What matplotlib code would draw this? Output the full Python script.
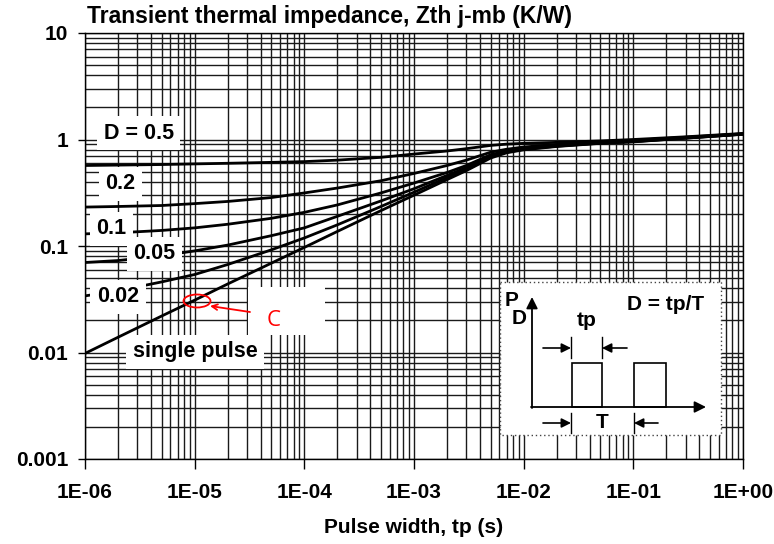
import matplotlib
matplotlib.use("Agg")
import matplotlib.pyplot as plt
from matplotlib.patches import Rectangle, Ellipse

plt.rcParams['font.family'] = ['Liberation Sans', 'DejaVu Sans']

# pulse width (s)
tp = [1e-6, 2e-6, 5e-6, 1e-5, 2e-5, 5e-5, 1e-4, 2e-4, 5e-4, 1e-3, 2e-3, 3e-3, 5e-3, 7e-3,
      1e-2, 2e-2, 5e-2, 1e-1, 3e-1, 1.0]

# Zth j-mb (K/W) per duty cycle
zth_05 = [0.57, 0.575, 0.582, 0.59, 0.598, 0.61, 0.62, 0.64, 0.68, 0.73, 0.78, 0.82, 0.88, 0.905,
          0.92, 0.94, 0.97, 1.00, 1.06, 1.14]
zth_02 = [0.232, 0.235, 0.24, 0.25, 0.262, 0.285, 0.315, 0.35, 0.41, 0.48, 0.57, 0.64, 0.76, 0.81,
          0.85, 0.90, 0.945, 0.98, 1.05, 1.13]
zth_01 = [0.13, 0.133, 0.14, 0.148, 0.16, 0.182, 0.207, 0.243, 0.315, 0.39, 0.49, 0.57, 0.72, 0.78,
          0.83, 0.88, 0.935, 0.97, 1.04, 1.13]
zth_005 = [0.07, 0.073, 0.081, 0.09, 0.102, 0.125, 0.148, 0.19, 0.265, 0.345, 0.46, 0.545, 0.70, 0.77,
           0.82, 0.87, 0.93, 0.96, 1.035, 1.125]
zth_002 = [0.034, 0.038, 0.046, 0.054, 0.067, 0.092, 0.119, 0.158, 0.235, 0.32, 0.44, 0.53, 0.69, 0.76,
           0.81, 0.865, 0.925, 0.955, 1.03, 1.12]
zth_single = [0.0098, 0.0139, 0.022, 0.031, 0.044, 0.069, 0.097, 0.137, 0.215, 0.30, 0.42, 0.51, 0.67, 0.75,
              0.80, 0.86, 0.92, 0.95, 1.03, 1.12]

series = [zth_05, zth_02, zth_01, zth_005, zth_002, zth_single]
labels = ['D = 0.5', '0.2', '0.1', '0.05', '0.02', 'single pulse']
label_x = [3.1e-6, 2.1e-6, 1.73e-6, 4.3e-6, 2.0e-6, 1.01e-5]
label_y = [1.15, 0.383, 0.145, 0.0845, 0.0334, 0.0102]

xticks = [1e-6, 1e-5, 1e-4, 1e-3, 1e-2, 1e-1, 1]
xticklabels = ['1E-06', '1E-05', '1E-04', '1E-03', '1E-02', '1E-01', '1E+00']
yticks = [0.001, 0.01, 0.1, 1, 10]
yticklabels = ['0.001', '0.01', '0.1', '1', '10']

fig = plt.figure(figsize=(7.74, 5.44), dpi=100)
ax = fig.add_axes([85 / 774, 1 - 459 / 544, 658 / 774, 426 / 544])
ax.set_xscale('log')
ax.set_yscale('log')
ax.set_xlim(1e-6, 1)
ax.set_ylim(0.001, 10)

ax.grid(True, which='both', color='#1a1a1a', lw=1.0)
ax.set_axisbelow(True)

for z in series:
    ax.plot(tp, z, color='black', lw=2.0, zorder=3, solid_capstyle='butt')

for lab, lx, ly in zip(labels, label_x, label_y):
    ax.text(lx, ly, lab, fontsize=15.5, fontweight='bold', ha='center', va='center', zorder=5,
            bbox=dict(boxstyle='square,pad=0.3', fc='white', ec='none'))

ax.set_xticks(xticks, labels=xticklabels)
ax.set_yticks(yticks, labels=yticklabels)
ax.minorticks_on()
ax.tick_params(which='minor', length=0)
ax.tick_params(axis='x', which='major', length=7, width=1, pad=10, labelsize=15)
ax.tick_params(axis='y', which='major', length=5, width=1, pad=7, labelsize=15)
for lab in ax.get_xticklabels() + ax.get_yticklabels():
    lab.set_fontweight('bold')
for s in ax.spines.values():
    s.set_color('black')
    s.set_linewidth(1.0)

ax.set_xlabel('Pulse width, tp (s)', fontsize=15, fontweight='bold', labelpad=12)
fig.text(87 / 774, 1 - 16 / 544, 'Transient thermal impedance, Zth j-mb (K/W)',
         fontsize=16.5, fontweight='bold', ha='left', va='center')

# overlay in image pixel coordinates for inset sketch and the red marking
ov = fig.add_axes([0, 0, 1, 1], zorder=10)
ov.set_xlim(0, 774)
ov.set_ylim(544, 0)
ov.axis('off')
ov.patch.set_alpha(0)

# inset with the pulse train
ov.add_patch(Rectangle((500, 282), 221, 153, fc='white', ec='#444444', lw=1.0, ls=(0, (1, 2))))
arr = dict(arrowstyle='-|>', color='black', lw=1.3, mutation_scale=17, shrinkA=0, shrinkB=0)
ov.annotate('', xy=(532, 297), xytext=(532, 408), arrowprops=arr)
ov.annotate('', xy=(706, 407), xytext=(531, 407), arrowprops=arr)
for x0, x1 in [(572, 602), (634, 666)]:
    ov.add_patch(Rectangle((x0, 363), x1 - x0, 44, fc='none', ec='black', lw=1.2))
arr2 = dict(arrowstyle='-|>', color='black', lw=1.2, mutation_scale=14, shrinkA=0, shrinkB=0)
ov.annotate('', xy=(571, 348), xytext=(543, 348), arrowprops=arr2)
ov.annotate('', xy=(602, 348), xytext=(627, 348), arrowprops=arr2)
ov.annotate('', xy=(571, 423), xytext=(543, 423), arrowprops=arr2)
ov.annotate('', xy=(634, 423), xytext=(658, 423), arrowprops=arr2)
ov.plot([571, 571], [337, 358], color='black', lw=1)
ov.plot([602, 602], [337, 358], color='black', lw=1)
ov.plot([571, 571], [413, 433], color='black', lw=1)
ov.plot([634, 634], [413, 433], color='black', lw=1)
ov.text(512, 300, 'P', fontsize=15, fontweight='bold', ha='center', va='center')
ov.text(519, 318, 'D', fontsize=15, fontweight='bold', ha='center', va='center')
ov.text(587, 320, 'tp', fontsize=15, fontweight='bold', ha='center', va='center')
ov.text(602, 423, 'T', fontsize=15, fontweight='bold', ha='center', va='center')
ov.text(666, 304, 'D = tp/T', fontsize=15, fontweight='bold', ha='center', va='center')

# red marking
ov.add_patch(Rectangle((248, 287), 77, 48, fc='white', ec='none'))
ov.add_patch(Ellipse((197, 301), 27, 13, fc='none', ec='red', lw=1.3))
ov.annotate('', xy=(210, 306), xytext=(250, 312),
            arrowprops=dict(arrowstyle='->', color='red', lw=1.3, shrinkA=0, shrinkB=0))
ov.text(274, 320, 'C', fontsize=16, color='red', ha='center', va='center', family='Open Sans')

fig.savefig('out.png', dpi=100)
